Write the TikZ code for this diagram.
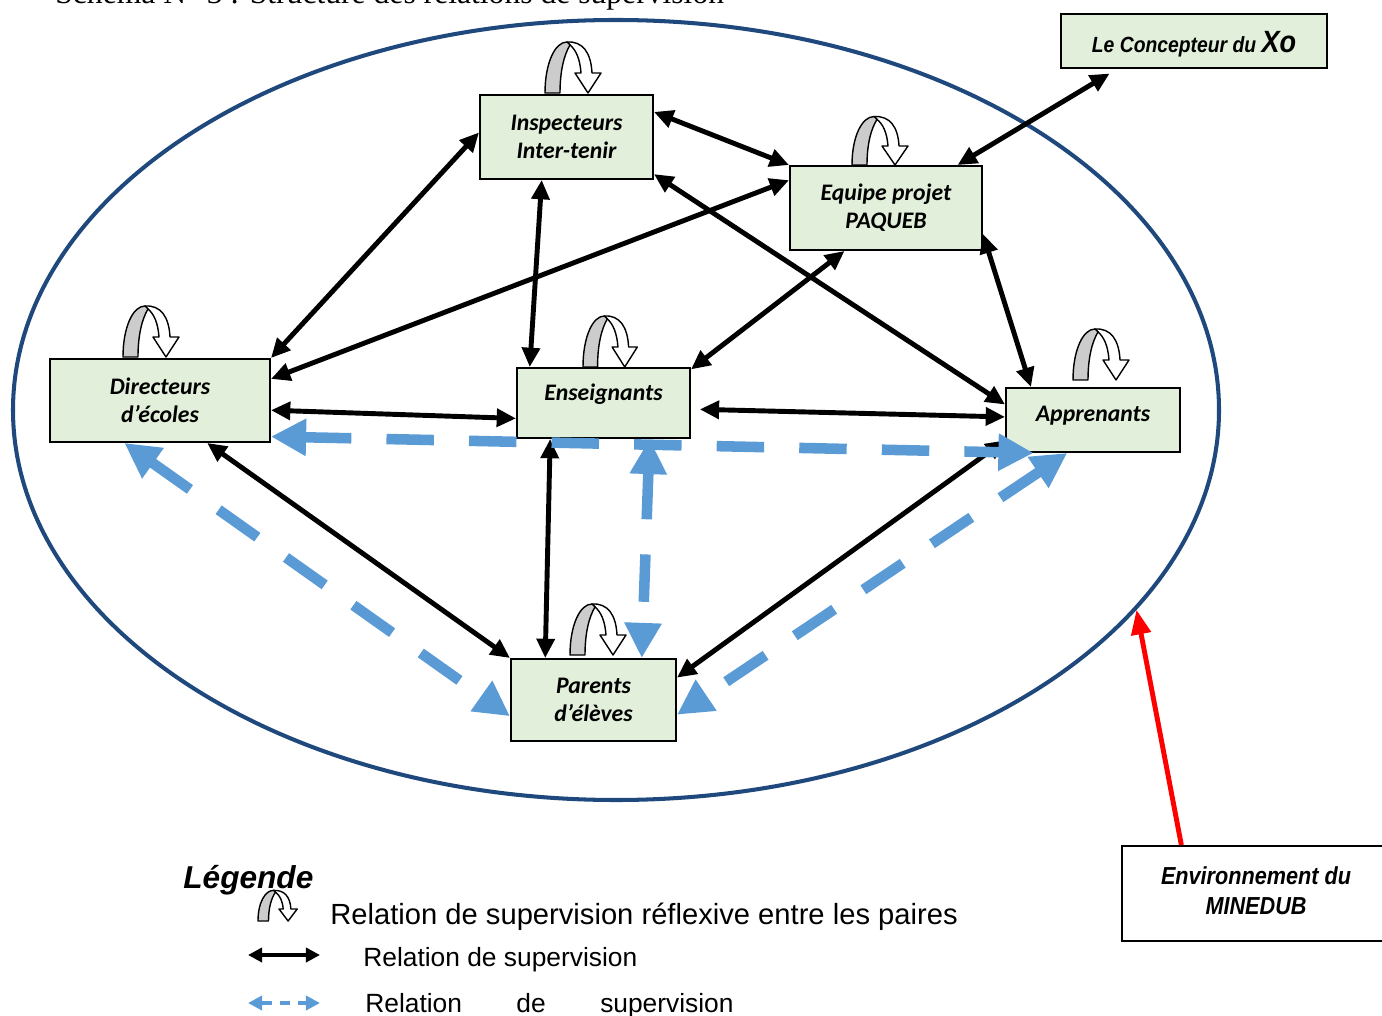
\documentclass[tikz,border=0pt]{standalone}
\usepackage{fontspec}
\setmainfont{Liberation Sans}
\newfontfamily\calibri{Carlito}
\newfontfamily\narrowarial[FakeStretch=0.88]{Liberation Sans}
\newfontfamily\timesfont{Liberation Serif}
\usetikzlibrary{arrows.meta}
\usetikzlibrary{shapes.geometric}
\definecolor{box-green}{RGB}{226,239,218}
\definecolor{ring-blue}{RGB}{31,73,125}
\definecolor{dash-blue}{RGB}{91,155,213}
\definecolor{curl-gray}{gray}{0.8}
\newcommand{\pix}{0.02cm} % one pixel of the original scan
\tikzstyle{actor}=[draw=black,line width=1.1pt,fill=box-green,align=center,inner sep=0pt,font=\calibri\bfseries\itshape\fontsize{13.5}{16}\selectfont]
\tikzstyle{outside}=[draw=black,line width=1.1pt,fill=white,align=center,inner sep=0pt,font=\narrowarial\bfseries\itshape\fontsize{14}{17}\selectfont]
\tikzstyle{supervision}=[{Triangle[length=11pt,width=10pt]}-{Triangle[length=11pt,width=10pt]},line width=2.8pt]
\tikzstyle{dashsupervision}=[{Triangle[length=20pt,width=20pt]}-{Triangle[length=20pt,width=20pt]},line width=6pt,dash-blue,dash pattern=on 27pt off 20pt]
\tikzstyle{curlback}=[draw=black,line width=0.8pt,fill=white,line join=round]
\tikzstyle{curlfront}=[draw=black,line width=0.8pt,fill=curl-gray,line join=round]
\newcommand{\reflexcurl}[4]{% bottom left corner (#1,#2), x and y scale
  \begin{scope}[shift={(#1,#2)},xscale=#3,yscale=-#4]
  \draw[curlback] (22,51) .. controls (38,52) and (46,40) .. (47,20) -- (56,20) -- (43,0) -- (30,20) -- (36,20) .. controls (35,34) and (31,43) .. (25,48) -- cycle;
  \draw[curlfront] (0,0) .. controls (0,30) and (10,51) .. (22,51) -- (25,48) .. controls (19,38) and (15,22) .. (15,0) -- cycle;
  \end{scope}
}
\begin{document}
\begin{tikzpicture}[x=0.02cm,y=-0.02cm]
\useasboundingbox (0,0) rectangle (1382,1016);
\node[font=\timesfont\fontsize{18}{20}\selectfont,anchor=base west,inner sep=0pt] (titre) at (55,4) {Schéma N° 3 : Structure des relations de supervision};
% the frame
\node[draw=ring-blue,line width=2.3pt,ellipse,minimum width=1206*\pix,minimum height=780*\pix,inner sep=0pt] (cadre) at (616,410) {};
% actors
\node[actor,minimum width=173*\pix,minimum height=84*\pix] (insp) at (566.5,137) {Inspecteurs\\Inter-tenir};
\node[actor,minimum width=192*\pix,minimum height=84*\pix] (equipe) at (886,208) {Equipe projet\\PAQUEB};
\node[actor,minimum width=220*\pix,minimum height=83*\pix] (dir) at (160,400.5) {Directeurs\\d’écoles};
\node[actor,text height=9pt,text depth=12pt,minimum width=173*\pix,minimum height=70*\pix] (ens) at (603.5,403) {Enseignants};
\node[actor,text height=9pt,text depth=7pt,minimum width=174*\pix,minimum height=64*\pix] (appr) at (1093,420) {Apprenants};
\node[actor,minimum width=165*\pix,minimum height=82*\pix] (par) at (593.5,700) {Parents\\d’élèves};
\node[outside,fill=box-green,text height=14pt,text depth=1pt,font=\narrowarial\bfseries\itshape\fontsize{12.5}{15}\selectfont,minimum width=266*\pix,minimum height=54*\pix] (conc) at (1194,41) {Le Concepteur du {\fontsize{17.5}{20}\selectfont Xo}};
\node[outside,text depth=3pt,minimum width=268*\pix,minimum height=95*\pix] (env) at (1256,893.5) {Environnement du\\MINEDUB};
% reflexive relations
\reflexcurl{545}{93}{1}{1}
\reflexcurl{852}{165}{1}{0.95}
\reflexcurl{123}{357}{1}{1}
\reflexcurl{583}{367}{0.97}{1}
\reflexcurl{1073}{380}{1}{1}
\reflexcurl{570}{655}{1}{1}
% supervision
\foreach \from/\to in {insp.177/dir.north east, insp.16/equipe.north west, insp.337/appr.170, insp.240/ens.154, equipe.164/dir.11, equipe.226/ens.21, equipe.345/appr.152, dir.355/ens.190, dir.318/par.north west, ens.214/par.139, appr.193/par.15}
  \draw[supervision] (\from) -- (\to);
\draw[supervision,shorten <=5pt] (conc.200) -- (equipe.31);
\draw[supervision,shorten <=5pt] (ens.356) -- (appr.178);
\foreach \from/\to in {dir.342/appr.209, ens.322/par.41, dir.230/par.191, appr.232/par.350}
  \draw[dashsupervision] (\from) -- (\to);
\draw[red,line width=2.8pt,-{Triangle[length=14pt,width=11pt]}] (env.147) -- (cadre.339);
% legend
\node[font=\bfseries\itshape\fontsize{18}{21}\selectfont,anchor=base west,inner sep=0pt] (legende) at (183,888) {Légende};
\reflexcurl{258}{921}{0.7}{0.6}
\node[font=\fontsize{16.6}{19}\selectfont,anchor=base west,inner sep=0pt] (leg1) at (330,924) {Relation de supervision réflexive entre les paires};
\coordinate (noir1) at (248,955);
\coordinate (noir2) at (320,955);
\draw[{Triangle[length=8pt,width=8pt]}-{Triangle[length=8pt,width=8pt]},line width=2pt] (noir1) -- (noir2);
\node[font=\fontsize{15}{18}\selectfont,anchor=base west,inner sep=0pt] (leg2) at (363,966) {Relation de supervision};
\coordinate (bleu1) at (248,1003);
\coordinate (bleu2) at (320,1003);
\draw[{Triangle[length=8pt,width=8pt]}-{Triangle[length=8pt,width=8pt]},line width=2.3pt,dash-blue,dash pattern=on 6pt off 4.5pt] (bleu1) -- (bleu2);
\node[font=\fontsize{15}{18}\selectfont,anchor=base west,inner sep=0pt] (leg3) at (365,1012) {Relation\hspace{31pt}de\hspace{31pt}supervision};
\end{tikzpicture}
\end{document}
